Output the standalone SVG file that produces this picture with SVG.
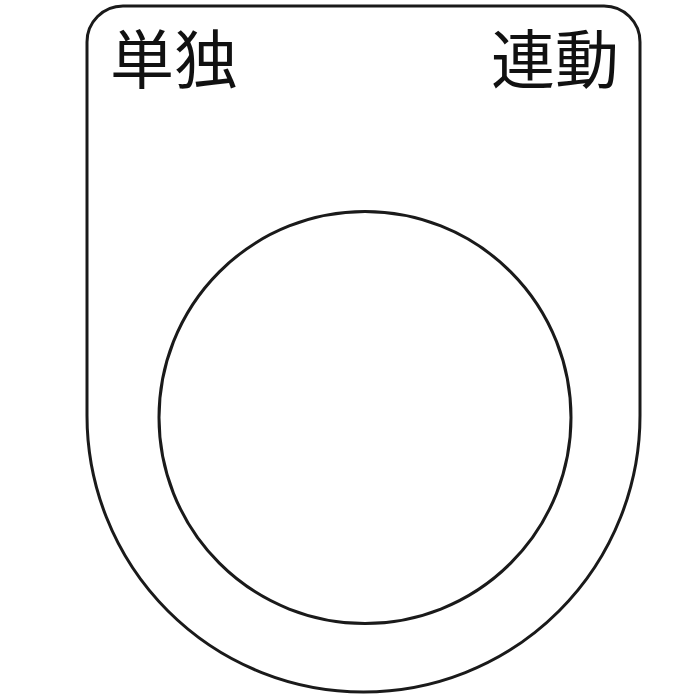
<svg xmlns="http://www.w3.org/2000/svg" width="700" height="700" viewBox="0 0 700 700">
<style>
.line{fill:none;stroke:#1a1a1a;stroke-width:3}
.lbl{font-family:"Noto Sans CJK JP","Noto Sans CJK SC",sans-serif;font-size:64px;fill:#111}
</style>
<rect width="700" height="700" fill="#fff"/>
<g id="plate">
<path class="line" d="M87,415.5 V42 A36,36 0 0 1 123,6 H604 A36,36 0 0 1 640,42 V415.5 A276.5,276.5 0 0 1 87,415.5 Z"/>
</g>
<g id="hole">
<circle class="line" cx="365" cy="417.5" r="206"/>
</g>
<g id="label-left">
<text class="lbl" x="110" y="83">単独</text>
</g>
<g id="label-right">
<text class="lbl" x="619" y="83" text-anchor="end">連動</text>
</g>
</svg>
